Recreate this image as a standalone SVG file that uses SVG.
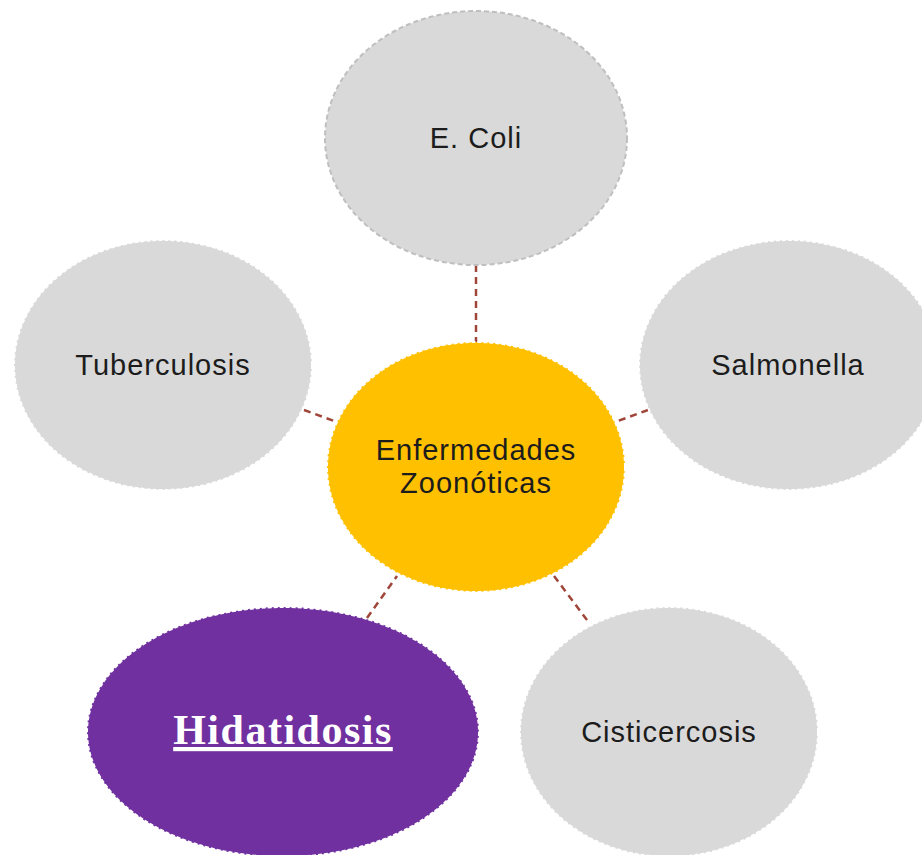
<svg xmlns="http://www.w3.org/2000/svg" width="922" height="855" viewBox="0 0 922 855">
<style>
.n{fill:#d9d9d9;stroke:#ffffff;stroke-width:2;stroke-dasharray:4 2}
.t{font-family:"Liberation Sans","DejaVu Sans",sans-serif;font-size:29px;fill:#1c1c1c;text-anchor:middle;letter-spacing:1px}
.c{stroke:#a0453a;stroke-width:2.5;stroke-dasharray:7 5;fill:none}
</style>
<rect width="922" height="855" fill="#ffffff"/>
<g id="connectors">
<line class="c" x1="476" y1="265" x2="476" y2="342"/>
<line class="c" x1="304" y1="410" x2="337" y2="422"/>
<line class="c" x1="648" y1="410" x2="615" y2="422"/>
<line class="c" x1="367" y1="618" x2="397" y2="576"/>
<line class="c" x1="554" y1="576" x2="590" y2="624"/>
</g>
<g id="ecoli">
<ellipse cx="476" cy="138" rx="151" ry="127" fill="#d9d9d9" stroke="#bfbfbf" stroke-width="2" stroke-dasharray="5 3"/>
<text class="t" x="476" y="148">E. Coli</text>
</g>
<g id="tuberculosis">
<ellipse class="n" cx="163" cy="365" rx="149" ry="125"/>
<text class="t" x="163" y="375">Tuberculosis</text>
</g>
<g id="salmonella">
<ellipse class="n" cx="789" cy="365" rx="150" ry="125"/>
<text class="t" x="788" y="375">Salmonella</text>
</g>
<g id="center">
<ellipse cx="476" cy="467" rx="149" ry="125" fill="#ffc000" stroke="#ffffff" stroke-width="2" stroke-dasharray="4 2"/>
<text class="t" x="476" y="460">Enfermedades</text>
<text class="t" x="476" y="493">Zoonóticas</text>
</g>
<g id="hidatidosis">
<ellipse cx="283" cy="732" rx="196" ry="125" fill="#7030a0" stroke="#ffffff" stroke-width="2" stroke-dasharray="4 2"/>
<text x="283" y="744" font-family="Liberation Serif,'DejaVu Serif',serif" font-weight="bold" font-size="42" fill="#ffffff" text-anchor="middle" letter-spacing="1.5" text-decoration="underline">Hidatidosis</text>
</g>
<g id="cisticercosis">
<ellipse class="n" cx="669" cy="732" rx="149" ry="125"/>
<text class="t" x="669" y="742">Cisticercosis</text>
</g>
</svg>
